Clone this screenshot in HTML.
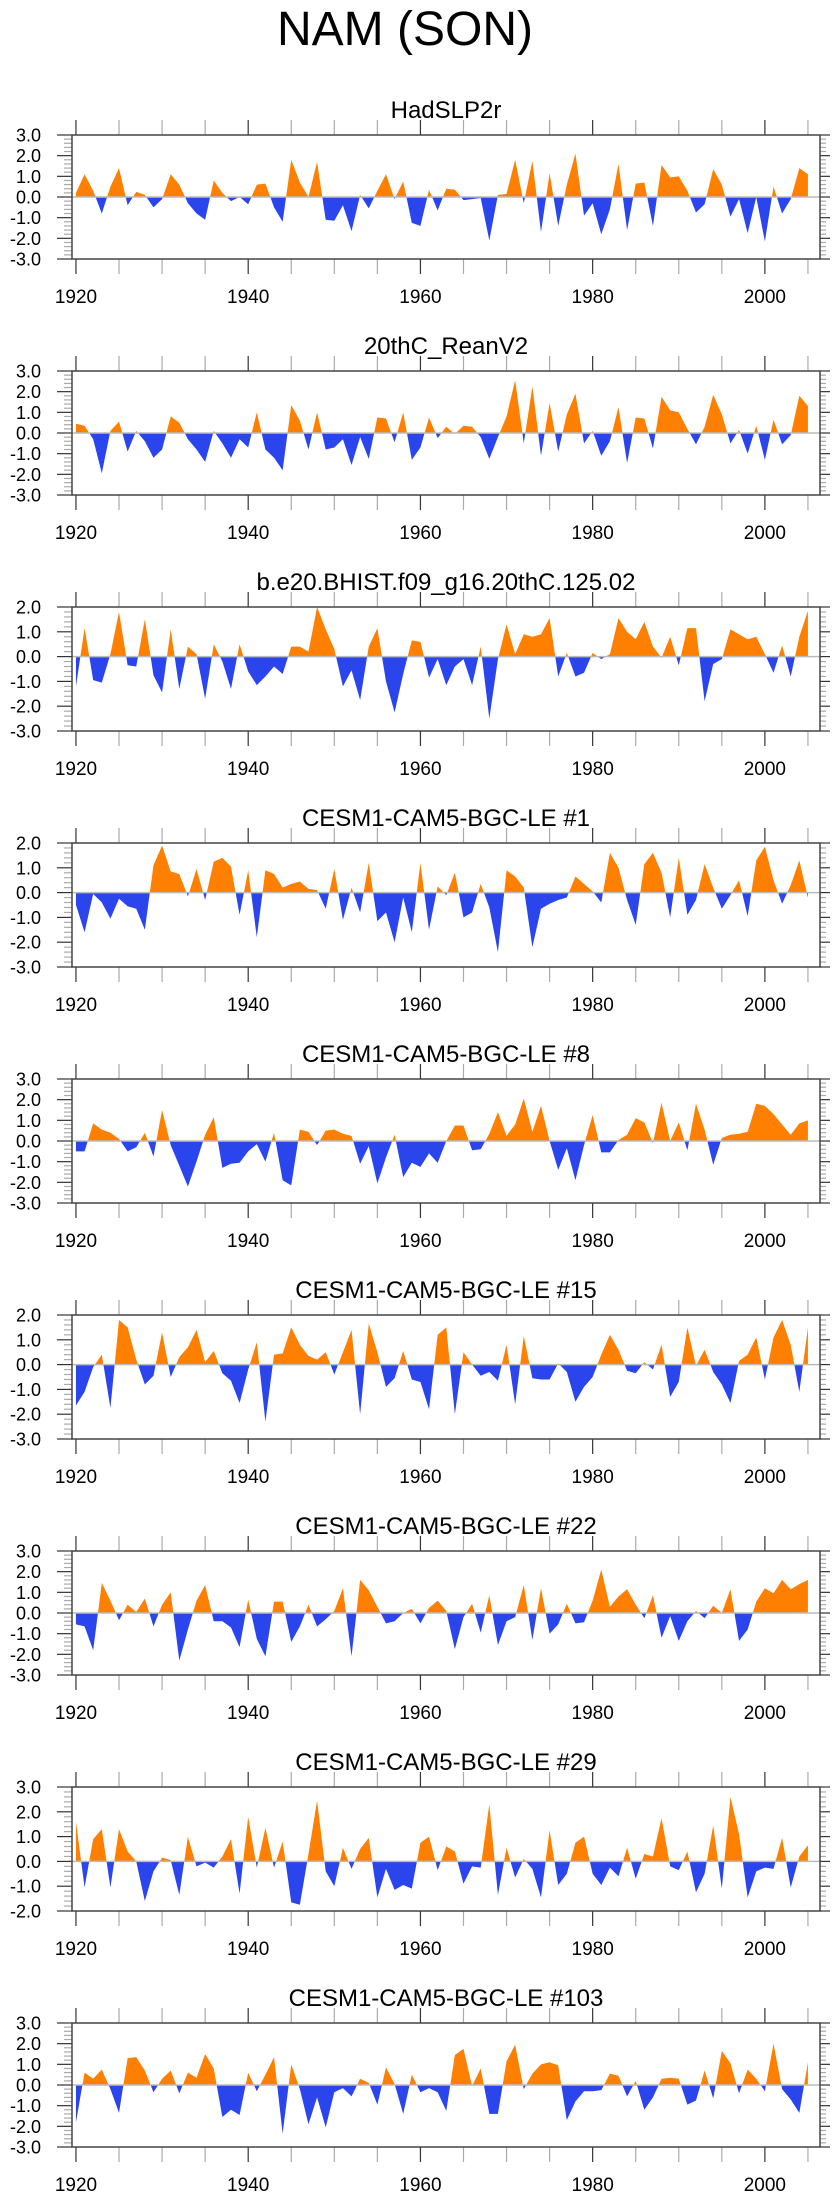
<!DOCTYPE html>
<html><head><meta charset="utf-8"><style>
html,body{margin:0;padding:0;background:#fff;}
svg{display:block;font-family:"Liberation Sans",sans-serif;}
</style></head><body>
<svg id="chart" width="840" height="2200" viewBox="0 0 840 2200" xmlns="http://www.w3.org/2000/svg">
<text x="405" y="45" font-size="48" text-anchor="middle" fill="#000">NAM (SON)</text>
</svg>
<script>
const years = Array.from({length: 86}, (_, i) => 1920 + i);
const xTicks = [1920, 1940, 1960, 1980, 2000];
const titles = ["HadSLP2r","20thC_ReanV2","b.e20.BHIST.f09_g16.20thC.125.02","CESM1-CAM5-BGC-LE #1","CESM1-CAM5-BGC-LE #8","CESM1-CAM5-BGC-LE #15","CESM1-CAM5-BGC-LE #22","CESM1-CAM5-BGC-LE #29","CESM1-CAM5-BGC-LE #103"];
const yMins = [-3,-3,-3,-3,-3,-3,-3,-2,-3];
const yMaxs = [3,3,2,2,3,2,3,3,3];
const s1 = [0.2,1.1,0.3,-0.8,0.5,1.4,-0.4,0.25,0.1,-0.5,-0.1,1.1,0.6,-0.3,-0.8,-1.1,0.8,0.2,-0.2,0.0,-0.35,0.6,0.65,-0.5,-1.2,1.8,0.7,0.0,1.7,-1.1,-1.15,-0.4,-1.65,0.1,-0.55,0.3,1.1,-0.1,0.75,-1.25,-1.4,0.35,-0.65,0.4,0.35,-0.15,-0.1,-0.05,-2.1,0.1,0.15,1.8,-0.3,1.75,-1.7,1.15,-1.4,0.6,2.1,-0.9,-0.3,-1.8,-0.6,1.6,-1.6,0.65,0.7,-1.4,1.55,0.95,1.0,0.3,-0.75,-0.35,1.35,0.6,-0.95,-0.1,-1.75,0.0,-2.15,0.5,-0.8,-0.1,1.4,1.1];
const s2 = [0.45,0.35,-0.3,-1.95,0.1,0.55,-0.9,0.1,-0.4,-1.2,-0.8,0.8,0.5,-0.3,-0.8,-1.4,0.1,-0.5,-1.2,-0.3,-0.7,1.0,-0.8,-1.2,-1.8,1.35,0.6,-0.8,1.0,-0.8,-0.7,-0.3,-1.55,-0.2,-1.25,0.75,0.7,-0.45,1.0,-1.3,-0.7,0.75,-0.25,0.3,-0.05,0.35,0.3,-0.2,-1.25,-0.2,0.8,2.55,-0.5,2.25,-1.1,1.45,-0.9,0.9,1.9,-0.5,0.1,-1.1,-0.4,1.25,-1.45,0.75,0.7,-0.75,1.75,1.1,1.0,0.2,-0.55,0.3,1.85,0.9,-0.5,0.15,-1.0,0.35,-1.3,0.65,-0.55,-0.1,1.8,1.3];
const s3 = [-1.2,1.15,-0.95,-1.05,0.1,1.8,-0.35,-0.4,1.5,-0.75,-1.45,1.1,-1.3,0.4,0.1,-1.7,0.5,-0.2,-1.3,0.5,-0.6,-1.15,-0.8,-0.4,-0.7,0.4,0.4,0.2,2.0,1.1,0.3,-1.2,-0.55,-1.75,0.4,1.15,-1.0,-2.25,-0.7,0.65,0.6,-0.85,-0.1,-1.15,-0.4,-0.1,-1.15,0.4,-2.5,-0.1,1.3,0.1,0.9,0.8,0.9,1.55,-0.8,0.15,-0.8,-0.65,0.15,-0.1,0.1,1.55,1.0,0.7,1.4,0.4,-0.05,0.8,-0.35,1.15,1.15,-1.8,-0.3,-0.1,1.1,0.9,0.7,0.8,0.1,-0.65,0.45,-0.8,0.8,1.85];
const s4 = [-0.5,-1.6,-0.05,-0.4,-1.05,-0.25,-0.55,-0.65,-1.5,1.1,1.9,0.85,0.75,-0.15,0.95,-0.3,1.25,1.4,1.05,-0.9,0.9,-1.8,0.9,0.75,0.2,0.35,0.45,0.15,0.1,-0.65,0.95,-1.1,0.2,-0.8,1.2,-1.15,-0.8,-2.0,-0.2,-1.6,1.2,-1.5,0.25,-0.1,0.8,-1.0,-0.8,0.35,-0.6,-2.4,0.9,0.65,0.2,-2.2,-0.65,-0.45,-0.3,-0.2,0.65,0.35,0.05,-0.4,1.6,1.0,-0.3,-1.3,1.15,1.6,0.8,-1.0,1.4,-0.9,-0.3,1.15,0.2,-0.65,-0.1,0.5,-0.95,1.3,1.85,0.5,-0.45,0.3,1.3,-0.2];
const s5 = [-0.5,-0.5,0.85,0.55,0.4,0.1,-0.5,-0.3,0.4,-0.75,1.5,-0.2,-1.2,-2.2,-1.0,0.3,1.15,-1.3,-1.1,-1.05,-0.5,-0.15,-1.0,0.4,-1.9,-2.15,0.55,0.45,-0.2,0.5,0.55,0.35,0.25,-1.1,-0.25,-2.05,-0.8,0.3,-1.75,-1.05,-1.25,-0.6,-1.05,0.0,0.75,0.75,-0.45,-0.4,0.35,1.4,0.25,0.8,2.05,0.45,1.7,0.0,-1.4,-0.35,-1.9,-0.2,1.25,-0.55,-0.55,0.05,0.3,1.1,0.9,-0.1,1.85,0.0,0.9,-0.45,1.8,0.55,-1.15,0.15,0.3,0.35,0.45,1.8,1.7,1.3,0.8,0.3,0.85,1.0];
const s6 = [-1.65,-1.1,-0.1,0.4,-1.75,1.8,1.5,0.2,-0.8,-0.45,1.3,-0.5,0.3,0.7,1.4,0.1,0.55,-0.35,-0.65,-1.55,-0.2,0.9,-2.3,0.4,0.45,1.5,0.8,0.35,0.2,0.5,-0.4,0.5,1.4,-2.0,1.65,0.5,-0.9,-0.55,0.55,-0.6,-0.7,-1.8,1.2,1.5,-2.0,0.5,0.0,-0.45,-0.3,-0.65,0.8,-1.6,1.15,-0.55,-0.6,-0.6,0.05,-0.3,-1.5,-0.9,-0.5,0.4,1.2,0.6,-0.25,-0.35,0.1,-0.2,0.8,-1.3,-0.7,1.5,-0.05,0.6,-0.3,-0.8,-1.55,0.15,0.4,1.1,-0.6,1.1,1.8,0.8,-1.1,1.5];
const s7 = [-0.55,-0.65,-1.8,1.45,0.6,-0.35,0.4,0.05,0.7,-0.65,0.4,1.0,-2.3,-0.8,0.6,1.35,-0.4,-0.4,-0.7,-1.65,0.65,-1.25,-2.1,0.55,0.55,-1.4,-0.65,0.4,-0.65,-0.3,0.1,1.2,-2.1,1.6,1.1,0.3,-0.5,-0.4,0.0,0.2,-0.5,0.25,0.6,0.1,-1.75,-0.2,0.45,-0.95,0.85,-1.55,-0.4,-0.2,1.35,-1.3,1.2,-1.0,-0.55,0.45,-0.5,-0.45,0.6,2.1,0.3,0.8,1.15,0.4,-0.25,0.85,-1.2,-0.15,-1.35,-0.4,0.1,-0.25,0.35,0.0,1.15,-1.35,-0.8,0.55,1.2,0.95,1.6,1.15,1.4,1.6];
const s8 = [1.6,-1.05,0.9,1.3,-1.05,1.3,0.4,0.0,-1.6,-0.4,0.15,0.05,-1.35,1.0,-0.2,-0.05,-0.25,0.2,0.9,-1.3,1.8,-0.25,1.35,-0.25,0.8,-1.65,-1.75,0.3,2.45,-0.4,-1.0,0.55,-0.3,0.5,0.95,-1.45,-0.3,-1.15,-0.95,-1.1,0.75,1.0,-0.35,0.6,0.4,-0.9,-0.2,-0.25,2.3,-1.35,0.55,-0.65,0.1,-0.3,-1.45,1.25,-0.95,-0.5,0.75,1.0,-0.5,-0.95,-0.25,-0.6,0.55,-0.7,0.3,0.2,1.75,-0.2,-0.35,0.4,-1.25,-0.5,1.45,-1.1,2.6,1.1,-1.45,-0.4,-0.25,-0.3,0.95,-1.05,0.2,0.65];
const s9 = [-1.8,0.6,0.3,0.75,-0.2,-1.35,1.3,1.35,0.7,-0.35,0.3,0.7,-0.4,0.6,0.35,1.5,0.8,-1.55,-1.2,-1.45,0.6,-0.3,0.5,1.35,-2.35,1.0,-0.2,-1.9,-0.6,-2.05,-0.35,-0.15,-0.55,0.3,0.1,-0.95,0.85,0.05,-1.4,0.5,-0.35,-0.15,-0.35,-1.25,1.45,1.75,-0.05,0.8,-1.4,-1.4,1.15,1.95,-0.2,0.55,1.0,1.1,0.95,-1.7,-0.8,-0.3,-0.3,-0.25,0.55,0.45,-0.55,0.2,-1.2,-0.6,0.3,0.35,0.3,-0.95,-0.75,0.7,-0.65,1.65,1.05,-0.4,0.75,0.3,-0.3,2.0,-0.2,-0.7,-1.35,1.1];
const series = [s1,s2,s3,s4,s5,s6,s7,s8,s9];

const NS = "http://www.w3.org/2000/svg";
const svg = document.getElementById("chart");
const L = 72, R = 820, H = 124, TOP0 = 135, STEP = 236;
const X0 = 1919.54, X1 = 2006.4;
function xScale(yr){ return L + (yr - X0) / (X1 - X0) * (R - L); }
function mk(tag, attrs, parent){ const e = document.createElementNS(NS, tag); for (const k in attrs) e.setAttribute(k, attrs[k]); (parent||svg).appendChild(e); return e; }

series.forEach((vals, p) => {
  const top = TOP0 + p * STEP, bot = top + H;
  const ymin = yMins[p], ymax = yMaxs[p];
  const yScale = v => bot - (v - ymin) / (ymax - ymin) * H;
  const g = mk("g", {});
  
  
  const t = mk("text", {x: 446, y: top - 17, "font-size": 24, "text-anchor": "middle"}, g);
  
  
  t.textContent = titles[p];
  const y0 = yScale(0);
  const cu = mk("clipPath", {id: "cu" + p}, g); mk("rect", {x: L, y: top, width: R-L, height: y0 - top}, cu);
  const cd = mk("clipPath", {id: "cd" + p}, g); mk("rect", {x: L, y: y0, width: R-L, height: bot - y0}, cd);
  let d = "M" + xScale(years[0]) + "," + y0;
  vals.forEach((v, i) => { d += " L" + xScale(years[i]).toFixed(2) + "," + yScale(v).toFixed(2); });
  d += " L" + xScale(years[vals.length-1]) + "," + y0 + " Z";
  const pu = mk("path", {d: d, fill: "#ff8000", "clip-path": "url(#cu" + p + ")"}, g);
  
  
  const pd = mk("path", {d: d, fill: "#2a45ec", "clip-path": "url(#cd" + p + ")"}, g);
  
  
  const zl = mk("line", {x1: L, x2: R, y1: y0, y2: y0, stroke: "#bbb", "stroke-width": 1.5}, g);
  
  
  for (let v = ymin; v <= ymax + 1e-6; v += 0.2) {
    const vv = Math.round(v * 10) / 10, yy = yScale(vv);
    const major = Math.abs(vv - Math.round(vv)) < 1e-6;
    const len = major ? 15 : 8;
    mk("line", {x1: L - len, x2: L, y1: yy, y2: yy, stroke: major ? "#333" : "#aaa", "stroke-width": 1.2}, g);
    mk("line", {x1: R, x2: R + (major ? 10 : 6), y1: yy, y2: yy, stroke: major ? "#333" : "#aaa", "stroke-width": 1.2}, g);
    if (major) {
      const lab = mk("text", {x: 41, y: yy + 6.5, "font-size": 18, "text-anchor": "end"}, g);
      
      
      lab.textContent = vv.toFixed(1);
    }
  }
  for (let yr = 1920; yr <= 2005; yr += 5) {
    const xx = xScale(yr), major = yr % 20 === 0;
    mk("line", {x1: xx, x2: xx, y1: top - 15, y2: top, stroke: major ? "#333" : "#aaa", "stroke-width": 1.2}, g);
    mk("line", {x1: xx, x2: xx, y1: bot, y2: bot + 15, stroke: major ? "#333" : "#aaa", "stroke-width": 1.2}, g);
  }
  xTicks.forEach(yr => {
    const lab = mk("text", {x: xScale(yr), y: bot + 44, "font-size": 19, "text-anchor": "middle"}, g);
    
    
    lab.textContent = yr;
  });
  const box = mk("rect", {x: L, y: top, width: R-L, height: H, fill: "none", stroke: "#444", "stroke-width": 1.5}, g);
  
  
});
</script>
</body></html>
